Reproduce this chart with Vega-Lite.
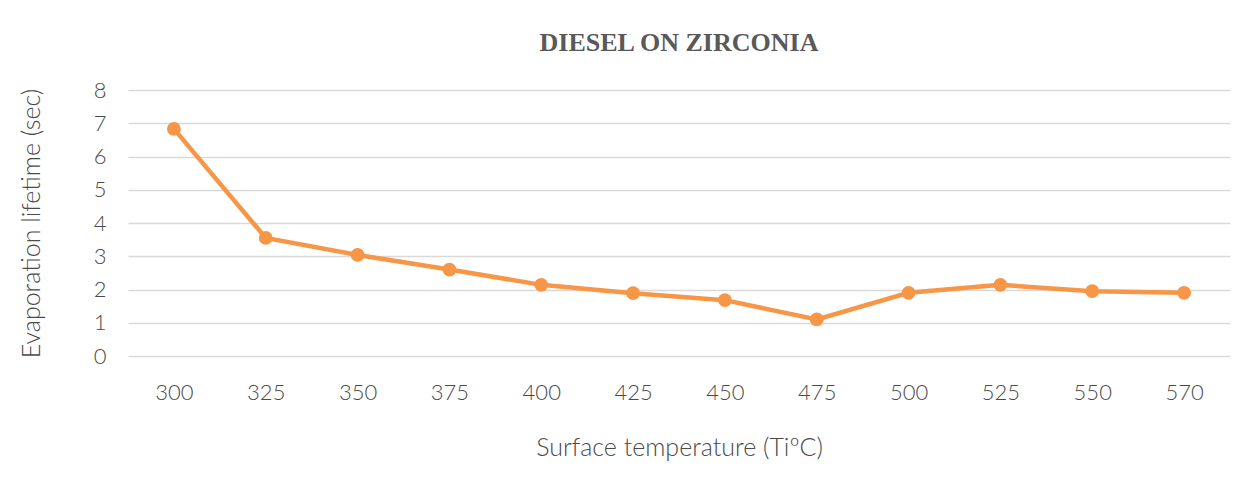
{
  "$schema": "https://vega.github.io/schema/vega-lite/v6.json",
  "width": 1102,
  "height": 266,
  "autosize": {"type": "none"},
  "padding": {"left": 128, "top": 90, "right": 29, "bottom": 135},
  "background": "white",
  "title": {
    "text": "DIESEL ON ZIRCONIA",
    "font": "Liberation Serif",
    "fontSize": 26,
    "fontWeight": "bold",
    "color": "#595959",
    "anchor": "middle",
    "offset": 23
  },
  "data": {
    "values": [
      {"temp": "300", "life": 6.83},
      {"temp": "325", "life": 3.55},
      {"temp": "350", "life": 3.04},
      {"temp": "375", "life": 2.6},
      {"temp": "400", "life": 2.14},
      {"temp": "425", "life": 1.89},
      {"temp": "450", "life": 1.68},
      {"temp": "475", "life": 1.1},
      {"temp": "500", "life": 1.9},
      {"temp": "525", "life": 2.14},
      {"temp": "550", "life": 1.95},
      {"temp": "570", "life": 1.9}
    ]
  },
  "mark": {"type": "line", "color": "#F79646", "strokeWidth": 4.5, "point": {"filled": true, "size": 190, "color": "#F79646", "opacity": 1}},
  "encoding": {
    "x": {
      "field": "temp",
      "type": "ordinal",
      "sort": null,
      "scale": {"paddingOuter": 0.5},
      "axis": {
        "title": "Surface temperature (TiºC)",
        "labelAngle": 0,
        "ticks": false,
        "domain": false,
        "grid": false,
        "labelPadding": 26,
        "titlePadding": 32,
        "labelFont": "Lato",
        "labelFontSize": 22,
        "labelFontWeight": 300,
        "labelColor": "#4a4a4a",
        "titleFont": "Lato",
        "titleFontSize": 25,
        "titleFontWeight": 300,
        "titleColor": "#4a4a4a"
      }
    },
    "y": {
      "field": "life",
      "type": "quantitative",
      "scale": {"domain": [0, 8], "nice": false},
      "axis": {
        "title": "Evaporation lifetime (sec)",
        "values": [0, 1, 2, 3, 4, 5, 6, 7, 8],
        "labelOverlap": false,
        "ticks": false,
        "domain": false,
        "grid": true,
        "gridColor": "#d9d9d9",
        "gridWidth": 1.3,
        "labelPadding": 22,
        "titlePadding": 49,
        "labelFont": "Lato",
        "labelFontSize": 22,
        "labelFontWeight": 300,
        "labelColor": "#4a4a4a",
        "titleFont": "Lato",
        "titleFontSize": 25,
        "titleFontWeight": 300,
        "titleColor": "#4a4a4a"
      }
    }
  },
  "config": {"view": {"stroke": null}}
}
